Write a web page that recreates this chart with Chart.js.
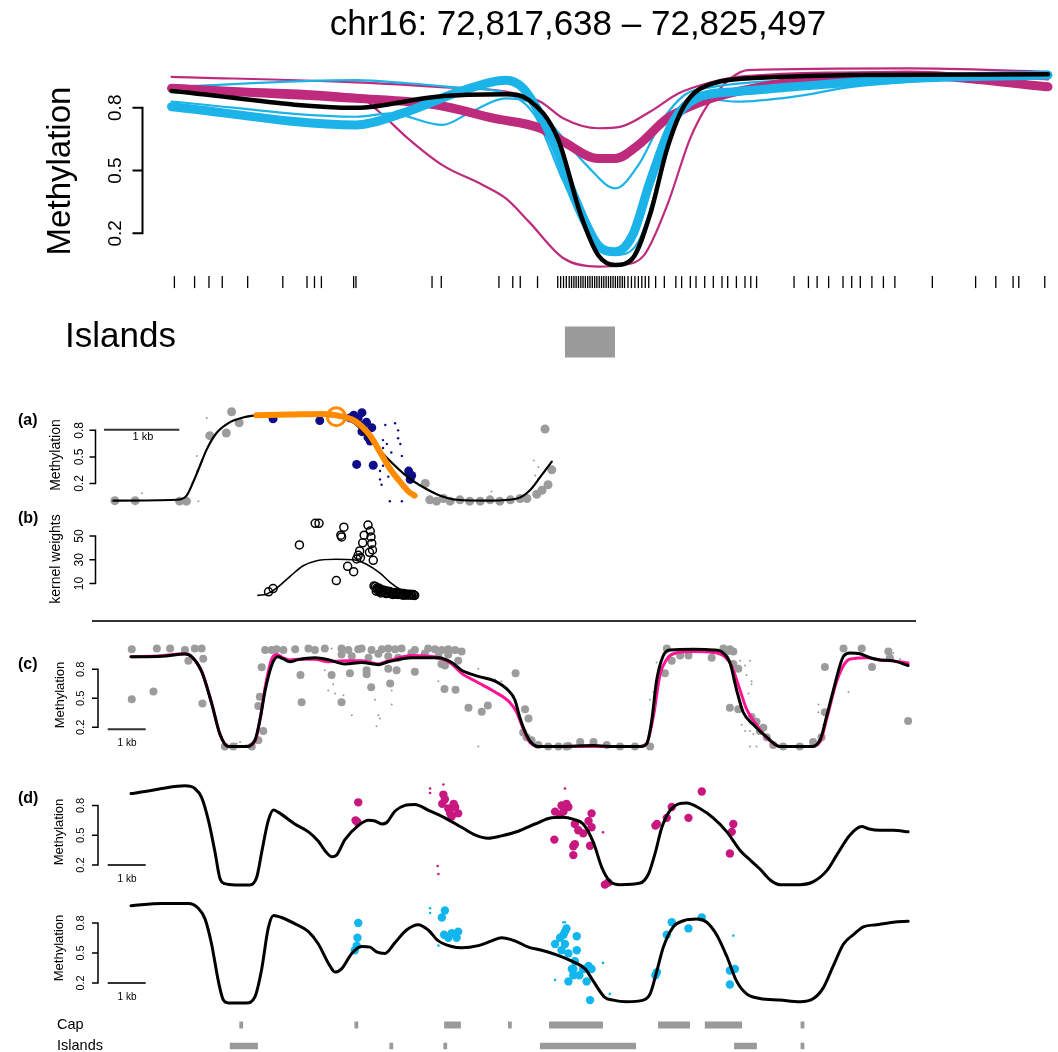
<!DOCTYPE html>
<html>
<head>
<meta charset="utf-8">
<script src="https://cdn.jsdelivr.net/npm/chart.js@4.4.0/dist/chart.umd.min.js"></script>
<style>
  body { margin: 0; background: #fff; }
  #page { position: relative; width: 1058px; height: 1052px; overflow: hidden; background: #fff; }
  #page canvas { position: absolute; left: 0; display: block; }
  #rule { position: absolute; left: 92px; top: 620px; width: 824px; height: 2px; background: #333; }
</style>
</head>
<body>
<div id="page">
  <canvas id="top" width="1058" height="380"></canvas>
  <canvas id="panelA" width="600" height="130"></canvas>
  <canvas id="panelB" width="600" height="100"></canvas>
  <div id="rule"></div>
  <canvas id="panelC" width="1058" height="122"></canvas>
  <canvas id="panelD" width="1058" height="124"></canvas>
  <canvas id="panelE" width="1058" height="128"></canvas>
  <canvas id="tracks" width="1058" height="40"></canvas>
</div>
<script>
const FONT = "'Liberation Sans', Arial, sans-serif";

// ---- region plot: smoothed methylation, bp from region start ----
const topBlackPos = [0, 1654, 2378, 2998, 3204, 3463, 3670, 3825, 3980, 4135, 4290, 4445, 4600, 4858, 5323, 6099, 7859];
const topBlack = [0.88, 0.80, 0.853, 0.864, 0.837, 0.654, 0.288, 0.097, 0.049, 0.081, 0.288, 0.606, 0.813, 0.917, 0.944, 0.956, 0.96];
const topBluePos = [0, 1654, 2068, 2584, 2998, 3153, 3411, 3618, 3825, 3980, 4135, 4290, 4497, 4703, 5065, 5582, 6615, 7859];
const topBlue = [0.805, 0.718, 0.773, 0.877, 0.932, 0.893, 0.654, 0.367, 0.144, 0.112, 0.192, 0.447, 0.733, 0.845, 0.877, 0.9, 0.94, 0.956];
const topMagentaPos = [0, 1654, 2378, 2894, 3308, 3515, 3825, 3980, 4186, 4445, 4755, 5065, 5582, 6615, 7859];
const topMagenta = [0.893, 0.845, 0.813, 0.749, 0.702, 0.638, 0.558, 0.558, 0.622, 0.749, 0.829, 0.877, 0.925, 0.956, 0.9];
const thinMagentaAPos = [0, 1654, 2378, 2998, 3308, 3515, 3825, 4031, 4290, 4548, 4806, 5117, 6615, 7859];
const thinMagentaA = [0.948, 0.921, 0.9, 0.877, 0.829, 0.749, 0.702, 0.71, 0.781, 0.869, 0.917, 0.95, 0.97, 0.935];
const thinMagentaBPos = [0, 1654, 1861, 2119, 2429, 2791, 2998, 3204, 3515, 3825, 4031, 4238, 4445, 4651, 4806, 5013, 5168, 6615, 7859];
const thinMagentaB = [0.893, 0.861, 0.781, 0.654, 0.526, 0.431, 0.367, 0.256, 0.081, 0.041, 0.049, 0.096, 0.335, 0.654, 0.813, 0.94, 0.98, 0.988, 0.972];
const thinBlueAPos = [0, 1654, 1964, 2429, 2687, 2998, 3204, 3463, 3721, 3980, 4186, 4393, 4600, 4858, 5582, 7859];
const thinBlueA = [0.83, 0.757, 0.773, 0.718, 0.781, 0.845, 0.829, 0.686, 0.526, 0.415, 0.526, 0.733, 0.861, 0.9, 0.932, 0.956];
const thinBlueBPos = [0, 1654, 2119, 2636, 2998, 3256, 3515, 3773, 3980, 4186, 4393, 4548, 4755, 5065, 5582, 6099, 7132, 7859];
const thinBlueB = [0.9, 0.932, 0.917, 0.893, 0.869, 0.765, 0.447, 0.16, 0.097, 0.16, 0.495, 0.765, 0.845, 0.829, 0.853, 0.9, 0.94, 0.956];
// CpG positions (rug) and the CpG island
const cpgPos = [26, 207, 336, 455, 683, 998, 1215, 1282, 1344, 1633, 1654, 2336, 2419, 2936, 3060, 3127, 3282,
  3463, 3489, 3515, 3540, 3566, 3587, 3608, 3628, 3649, 3670, 3690, 3711, 3732, 3752, 3773, 3794, 3814, 3835,
  3856, 3876, 3897, 3918, 3938, 3959, 3980, 4000, 4021, 4042, 4062, 4093, 4124, 4155, 4186, 4217, 4248, 4279,
  4341, 4419, 4522, 4574, 4652, 4703, 4781, 4858, 4936, 4987, 5065, 5142, 5194, 5246, 5582, 5711, 5789, 5892,
  6021, 6099, 6176, 6280, 6383, 6486, 6822, 7210, 7391, 7546, 7597, 7830];
const islandStartBp = 3528, islandEndBp = 3976;

// ---- (a) local fit, kb ----
const aBlackPos = [0, 0.84, 0.97, 1.06, 1.15, 1.24, 1.37, 1.55, 1.77, 1.90, 2.3, 2.9, 3.2, 3.4, 3.63, 3.9, 4.12, 4.34, 4.56, 5.0, 5.36, 5.53, 5.67, 5.82];
const aBlack = [0.006, 0.016, 0.06, 0.216, 0.4, 0.585, 0.77, 0.893, 0.955, 0.97, 0.975, 0.96, 0.88, 0.7, 0.49, 0.277, 0.154, 0.062, 0.016, 0.006, 0.03, 0.124, 0.277, 0.447];
const aOrangePos = [1.90, 2.35, 2.79, 3.05, 3.23, 3.41, 3.54, 3.67, 3.81, 3.92, 4.0];
const aOrange = [0.969, 0.978, 0.985, 0.954, 0.892, 0.738, 0.554, 0.369, 0.215, 0.108, 0.062];
const aFocusPos = [2.96], aFocus = [0.954];
const aGreyPos = [1.57, 1.67, 1.50, 1.28, 0.02, 0.29, 0.88, 0.97, 4.14, 4.2, 4.29, 4.38, 4.47, 4.6, 4.73, 4.87, 5.0, 5.13, 5.27, 5.4, 5.49, 5.62, 5.69, 5.77, 5.82, 5.73];
const aGrey = [1.01, 0.886, 0.77, 0.74, 0.006, 0.006, 0, 0, 0.2, 0.015, 0, 0.03, 0, 0.015, 0, 0, 0.015, 0, 0.015, 0.03, 0.03, 0.077, 0.123, 0.185, 0.354, 0.815];
const aGreySmallPos = [1.24, 1.11, 1.11, 0.38, 1.13, 5.58, 5.64, 5.6, 5.02];
const aGreySmall = [0.94, 0.51, 0.34, 0.09, 0, 0.46, 0.385, 0.29, 0.11];
const aNavyPos = [2.12, 2.74, 3.19, 3.3, 3.25, 3.36, 3.43, 3.3, 3.38, 3.41, 3.23, 3.45, 3.92, 3.96, 3.94, 3.14, 3.32];
const aNavy = [0.93, 0.91, 0.97, 1.0, 0.94, 0.89, 0.83, 0.785, 0.72, 0.68, 0.415, 0.406, 0.34, 0.29, 0.246, 0.94, 0.86];
const aNavySmallPos = [3.61, 3.74, 3.78, 3.58, 3.63, 3.58, 3.83, 3.58, 3.54, 3.65, 3.54, 3.56, 3.67, 3.83, 3.69, 3.78, 3.81];
const aNavySmall = [0.86, 0.88, 0.71, 0.69, 0.646, 0.6, 0.51, 0.4, 0.34, 0.277, 0.246, 0.185, 0, 0, 0.55, 0.8, 0.646];

// ---- (b) kernel weights ----
const bKernelPos = [1.92, 2.04, 2.17, 2.35, 2.52, 2.7, 2.96, 3.19, 3.36, 3.54, 3.67, 3.81, 3.94, 4.0];
const bKernel = [0, 1.25, 6.25, 16.25, 25, 29.25, 30.5, 30, 26.25, 18.75, 11.25, 5, 1.25, 0];
const bWeightPos = [2.68, 2.73, 3.06, 3.02, 3.03, 2.47, 3.38, 3.41, 3.33, 3.42, 3.31, 3.43, 3.44, 3.4, 3.27, 3.25, 3.23, 3.28, 3.45, 3.11, 3.19, 2.96, 2.12, 2.06,
  3.5, 3.54, 3.58, 3.63, 3.67, 3.72, 3.76, 3.81, 3.85, 3.89, 3.94, 3.98, 3.52, 3.56, 3.61, 3.65, 3.69, 3.74, 3.78, 3.83, 3.87, 3.92, 3.96, 4.0,
  3.46, 3.48, 3.5, 3.53, 3.55, 3.6, 3.62, 3.7, 3.71, 3.75, 3.8, 3.85, 3.9, 3.95, 3.99, 3.49];
const bWeight = [60.75, 60.75, 57.5, 50.75, 49.25, 42.5, 59.25, 54.25, 50.75, 49.25, 44.25, 43.75, 38.25, 36.25, 37.5, 33.75, 30.75, 31.75, 29.5, 24.5, 20, 12.5, 5.75, 3,
  6.25, 5, 4.5, 3.75, 3.25, 2.5, 2.25, 1.75, 1.5, 1.25, 1.0, 0.75, 3.75, 3, 2.25, 1.75, 1.25, 1.0, 0.75, 0.5, 0.25, 0.25, 0.25, 0,
  8, 7.5, 5, 6, 2, 4, 1.5, 2, 0.75, 1.5, 1.0, 0.25, 0.5, 0.5, 0.25, 3.5];

// ---- (c) two smoothers over the same CpGs, kb ----
const cBlackPos = [0, 0.81, 1.42, 1.6, 1.86, 2.12, 2.34, 2.56, 3.0, 3.26, 3.4, 3.53, 3.7, 3.86, 4.0, 4.18, 4.4, 4.84, 5.19, 5.63,
  6.07, 6.51, 6.77, 7.39, 8.09, 8.44, 8.7, 9.14, 9.58, 9.93, 10.1, 10.24, 10.46, 10.72, 11.3, 12.17, 12.6, 13.4, 13.57, 13.7,
  13.83, 14.0, 14.18, 14.8, 15.32, 15.59, 15.76, 15.94, 16.11, 16.38, 16.73, 17.08, 17.43, 17.87, 18.13, 18.31, 18.48, 18.75, 18.92, 19.18,
  19.45, 19.71, 20.06, 20.45];
const cBlack = [0.929, 0.935, 0.958, 0.929, 0.774, 0.45, 0.129, 0, 0, 0.065, 0.29, 0.58, 0.84, 0.929, 0.91, 0.877, 0.9, 0.919, 0.9, 0.855,
  0.87, 0.848, 0.877, 0.919, 0.919, 0.87, 0.79, 0.726, 0.677, 0.58, 0.484, 0.29, 0.08, 0, 0, 0.01, 0, 0, 0.03, 0.26,
  0.68, 0.935, 1.0, 1.006, 1.0, 0.968, 0.87, 0.58, 0.355, 0.226, 0.097, 0, 0, 0, 0.065, 0.32, 0.58, 0.935, 0.968, 0.96,
  0.919, 0.897, 0.887, 0.839];
const cPinkPos = [0, 0.81, 1.42, 1.6, 1.86, 2.12, 2.34, 2.56, 3.0, 3.26, 3.4, 3.53, 3.7, 3.83, 4.0, 4.18, 4.4, 4.84, 5.19, 5.63,
  6.07, 6.51, 6.77, 7.39, 8.09, 8.44, 8.7, 9.14, 9.58, 9.98, 10.15, 10.28, 10.46, 10.72, 11.3, 13.4, 13.57, 13.75, 13.92, 14.1,
  14.27, 14.8, 15.32, 15.63, 15.8, 16.03, 16.2, 16.46, 16.75, 17.08, 17.87, 18.13, 18.31, 18.57, 18.84, 19.01, 19.36, 19.71, 20.06, 20.45];
const cPink = [0.929, 0.94, 0.96, 0.929, 0.78, 0.455, 0.13, 0, 0, 0.05, 0.29, 0.613, 0.903, 0.952, 0.919, 0.897, 0.903, 0.903, 0.877, 0.887,
  0.887, 0.855, 0.887, 0.942, 0.919, 0.855, 0.758, 0.661, 0.565, 0.452, 0.355, 0.226, 0.065, 0, 0, 0, 0.03, 0.32, 0.742, 0.903,
  0.961, 0.984, 0.974, 0.929, 0.839, 0.58, 0.387, 0.226, 0.081, 0, 0, 0.048, 0.29, 0.677, 0.887, 0.91, 0.919, 0.897, 0.887, 0.865];
const cGreyPos = [0.02, 0.68, 1.03, 1.42, 1.68, 1.86, 1.51, 1.9, 0.59, 0.02, 1.88, 2.47, 2.69, 3.18, 3.35, 3.48, 3.35, 3.39, 3.44,
  3.53, 3.7, 3.83, 4.01, 4.32, 4.67, 4.84, 5.1, 5.54, 5.72, 5.98, 6.07, 6.33, 6.6, 6.77, 6.95, 7.12, 7.47, 7.82, 8.0, 8.18, 8.35, 8.53, 8.7,
  5.54, 5.81, 6.25, 6.51, 6.77, 7.03, 7.38, 7.73, 8.09, 8.35, 8.61, 8.26, 8.17,
  4.46, 5.28, 5.76, 6.2, 6.2, 6.77, 6.82, 6.99, 7.47, 6.32, 4.49, 5.54, 8.25, 8.54, 8.88, 9.23, 9.39, 10.12, 10.37, 10.46, 10.32, 10.41, 10.54, 10.72, 10.98, 11.25, 11.51,
  11.46, 11.82, 12.17, 12.52, 12.87, 13.26, 13.66, 14.1, 14.23, 14.45, 14.67, 15.28, 14.05, 15.59, 15.76, 15.85, 15.68, 15.85, 15.98, 15.76, 15.98,
  16.33, 16.46, 16.64, 16.55, 16.73, 16.9, 17.16, 17.6, 17.95, 18.17, 18.26, 18.26, 18.75, 19.23, 19.5, 19.93, 19.97, 20.45];
const cGrey = [1.006, 1.016, 1.016, 1.0, 1.016, 1.016, 0.887, 0.91, 0.571, 0.49, 0.445, 0, 0, 0, 0.065, 0.16, 0.42, 0.516, 0.82,
  1.0, 1.0, 1.006, 1.0, 1.006, 1.016, 1.0, 1.016, 1.016, 1.0, 1.006, 1.016, 1.0, 1.006, 1.016, 1.006, 1.016, 1.0, 1.016, 1.006, 1.0, 1.006, 1.0, 0.984,
  0.952, 0.935, 0.919, 0.96, 0.935, 0.919, 0.968, 0.961, 0.935, 0.952, 0.887, 0.839, 0.855,
  0.742, 0.742, 0.758, 0.79, 0.748, 0.806, 0.652, 0.79, 0.774, 0.613, 0.458, 0.458, 0.597, 0.587, 0.403, 0.361, 0.426, 0.758, 0.387, 0.29, 0.145, 0.097, 0.065, 0.016, 0, 0, 0.006,
  0, 0.048, 0.048, 0.016, 0, 0, 0, 1.016, 0.887, 0.942, 0.942, 0.919, 0.758, 1.016, 1.006, 0.984, 0.984, 0.855, 0.806, 0.403, 0.387,
  0.306, 0.258, 0.194, 0.161, 0.097, 0.016, 0, 0, 0.048, 0.097, 0.355, 0.823, 1.016, 1.016, 0.823, 0.984, 0.919, 0.265];
const cGreySmallPos = [5.1, 5.19, 5.32, 5.37, 5.59, 5.81, 5.72, 6.42, 6.51, 6.55, 6.46, 6.86, 6.86, 8.09, 9.14, 9.58, 9.75, 2.87, 3.04, 2.78, 5.1, 5.28, 9.14,
  13.66, 13.75, 13.83, 16.03, 16.16, 16.29, 16.33, 16.33, 16.2, 16.25, 16.07, 16.16, 16.38, 16.29, 18.09, 18.22, 18.09, 18.88, 16.29, 16.46, 20.06, 20.24];
const cGreySmall = [0.79, 0.58, 0.645, 0.548, 0.532, 0.323, 0.774, 0.484, 0.323, 0.29, 0.21, 0.58, 0.435, 0.677, 0.806, 0.694, 0.677, 0.048, 0.016, 0.032, 1.016, 1.016, 0,
  0.484, 0.565, 0.871, 0.887, 0.839, 0.887, 0.677, 0.645, 0.742, 0.548, 0.226, 0.161, 0.129, 0.161, 0.435, 0.226, 0.355, 0.565, 0, 0, 0.968, 0.903];

// ---- (d) and (e) fits with the CpGs of one sample ----
const dBlackPos = [0, 0.37, 0.81, 1.42, 1.68, 1.86, 2.04, 2.21, 2.34, 2.47, 2.74, 3.13, 3.31, 3.44, 3.61, 3.75, 3.88, 4.32, 4.67, 4.93,
  5.1, 5.28, 5.41, 5.63, 5.98, 6.25, 6.42, 6.6, 6.73, 6.95, 7.21, 7.47, 7.82, 8.26, 8.7, 9.05, 9.4, 9.75, 10.19, 10.63,
  11.07, 11.35, 11.65, 11.9, 12.17, 12.39, 12.61, 12.87, 13.4, 13.62, 13.8, 13.97, 14.19, 14.41, 14.62, 14.97, 15.32, 15.68, 16.03, 16.33,
  16.55, 16.82, 17.08, 17.61, 17.96, 18.31, 18.57, 18.92, 19.23, 19.4, 19.71, 20.06, 20.45];
const dBlack = [0.919, 0.94, 0.97, 0.997, 0.97, 0.878, 0.644, 0.331, 0.066, 0.0125, 0, 0, 0.08, 0.33, 0.644, 0.753, 0.73, 0.61, 0.534, 0.44,
  0.347, 0.284, 0.3, 0.456, 0.597, 0.65, 0.644, 0.613, 0.628, 0.744, 0.8, 0.81, 0.753, 0.675, 0.58, 0.503, 0.47, 0.494, 0.54, 0.613,
  0.675, 0.68, 0.66, 0.6125, 0.425, 0.175, 0.034, 0.003, 0.019, 0.1125, 0.33, 0.58, 0.753, 0.816, 0.825, 0.769, 0.675, 0.534, 0.347, 0.2375,
  0.16, 0.05, 0.003, 0.003, 0.034, 0.144, 0.3, 0.503, 0.5875, 0.566, 0.55, 0.55, 0.534];
const dDotPos = [5.98, 5.91, 5.96, 8.22, 8.26, 8.19, 8.35, 8.4, 8.49, 8.53, 8.61, 8.44, 11.16, 11.33, 11.46, 11.29, 11.14, 11.64, 11.64, 11.42,
  11.51, 11.38, 11.68, 11.77, 11.9, 12.04, 12.12, 12.12, 11.68, 12.08, 12.47, 12.56, 13.8, 13.84, 14.1, 14.23, 14.67, 15.02, 15.85, 15.81, 15.76];
const dDot = [0.831, 0.65, 0.63, 0.909, 0.8625, 0.816, 0.769, 0.72, 0.816, 0.784, 0.72, 0.69, 0.7375, 0.8, 0.816, 0.706, 0.456, 0.39, 0.3, 0.8,
  0.784, 0.7375, 0.6125, 0.55, 0.519, 0.644, 0.72, 0.58, 0.41, 0.394, 0.003, 0.025, 0.597, 0.6125, 0.675, 0.784, 0.675, 0.94, 0.6125, 0.534, 0.316];
const dSmallPos = [7.87, 7.87, 8.22, 8.07, 8.09, 11.42, 12.42];
const dSmall = [0.97, 0.925, 1.01, 0.19, 0.11, 0.97, 0.53];

const eBlackPos = [0, 0.81, 1.51, 1.77, 1.95, 2.12, 2.3, 2.43, 2.56, 3.04, 3.26, 3.44, 3.61, 3.75, 3.96, 4.32, 4.67, 4.93, 5.19, 5.37,
  5.54, 5.81, 6.07, 6.29, 6.46, 6.68, 6.95, 7.25, 7.56, 7.82, 8.09, 8.44, 8.7, 9.14, 9.49, 9.75, 10.1, 10.46, 10.81, 11.2,
  11.6, 11.95, 12.17, 12.46, 12.69, 13.04, 13.48, 13.66, 13.83, 14.01, 14.27, 14.54, 14.89, 15.15, 15.41, 15.68, 15.94, 16.2, 16.55, 17.08,
  17.61, 17.96, 18.22, 18.48, 18.75, 19.01, 19.27, 19.62, 20.06, 20.45];
const eBlack = [0.972, 0.994, 0.994, 0.947, 0.838, 0.589, 0.215, 0.028, 0, 0, 0.06, 0.34, 0.745, 0.875, 0.854, 0.79, 0.713, 0.589, 0.4, 0.308,
  0.34, 0.495, 0.564, 0.558, 0.511, 0.495, 0.604, 0.729, 0.782, 0.729, 0.62, 0.564, 0.551, 0.573, 0.62, 0.651, 0.62, 0.558, 0.526, 0.48,
  0.417, 0.34, 0.215, 0.059, 0.028, 0.012, 0.028, 0.09, 0.308, 0.558, 0.76, 0.822, 0.838, 0.807, 0.682, 0.464, 0.215, 0.09, 0.044, 0.028,
  0.012, 0.044, 0.153, 0.37, 0.589, 0.682, 0.76, 0.782, 0.807, 0.816];
const eDotPos = [5.98, 5.96, 5.94, 5.89, 8.26, 8.18, 8.24, 8.44, 8.61, 8.57, 8.35, 11.16, 11.29, 11.42, 11.46, 11.33, 11.51, 11.51, 11.6, 11.64,
  11.38, 11.42, 11.73, 11.73, 11.68, 11.64, 11.9, 12.04, 12.12, 11.99, 11.8, 12.08, 14.1, 14.23, 14.67, 15.02, 13.8, 13.84, 15.76, 15.89, 15.76];
const eDot = [0.8, 0.651, 0.573, 0.526, 0.925, 0.854, 0.682, 0.698, 0.713, 0.651, 0.651, 0.589, 0.651, 0.713, 0.745, 0.526, 0.495, 0.215, 0.34, 0.277,
  0.682, 0.589, 0.667, 0.526, 0.417, 0.34, 0.34, 0.37, 0.34, 0.215, 0.277, 0.028, 0.682, 0.807, 0.745, 0.854, 0.277, 0.308, 0.324, 0.34, 0.184];
const eSmallPos = [7.87, 7.87, 8.09, 11.16, 11.42, 15.85, 12.42, 12.6, 11.38];
const eSmall = [0.947, 0.9, 0.573, 0.23, 0.807, 0.673, 0.4, 0.09, 0.807];

// annotation tracks, kb
const capStart = [2.85, 5.88, 8.24, 9.92, 11.0, 13.87, 15.1, 17.62];
const capEnd = [2.95, 5.98, 8.68, 10.02, 12.42, 14.71, 16.08, 17.72];
const islandStart = [2.6, 6.8, 8.22, 10.76, 15.87, 17.62];
const islandEnd = [3.34, 6.9, 8.32, 13.29, 16.47, 17.72];

const methTicks = [0.2, 0.5, 0.8];
const methLabels = ['0.2', '0.5', '0.8'];
const weightTicks = [10, 30, 50];
const weightLabels = ['10', '30', '50'];

const BLUE = '#1cb3e8', MAGENTA = '#be2a7c', GREY = '#9c9c9c', NAVY = '#0d0d8a', ORANGE = '#ff8c00';

const pts = (xs, ys) => xs.map((x, i) => ({ x: x, y: ys[i] }));

function curve(xs, ys, color, width) {
  return { data: pts(xs, ys), borderColor: color, borderWidth: width, pointRadius: 0,
    cubicInterpolationMode: 'monotone', borderCapStyle: 'round', borderJoinStyle: 'round', clip: false };
}
function dots(xs, ys, color, r) {
  return { data: pts(xs, ys), showLine: false, pointRadius: r, pointBackgroundColor: color,
    pointBorderWidth: 0, borderColor: color, clip: false };
}
function rings(xs, ys, color, r, w) {
  return { data: pts(xs, ys), showLine: false, pointRadius: r, pointBackgroundColor: 'rgba(0,0,0,0)',
    pointBorderColor: color, pointBorderWidth: w, borderColor: color, clip: false };
}
function segment(x0, x1, y, color, width) {
  return { data: [{ x: x0, y: y }, { x: x1, y: y }], borderColor: color, borderWidth: width,
    pointRadius: 0, borderCapStyle: 'butt', clip: false };
}
function rug(xs, y, len) {
  return { data: xs.map(x => ({ x: x, y: y })), showLine: false, pointStyle: 'line', rotation: 90,
    pointRadius: len / 2, pointBorderColor: '#000', pointBorderWidth: 1.3, borderColor: '#000', clip: false };
}

function txt(ctx, s, x, y, size, opts) {
  opts = opts || {};
  ctx.save();
  ctx.translate(x, y);
  if (opts.rot) ctx.rotate(-Math.PI / 2);
  ctx.font = (opts.bold ? 'bold ' : '') + size + 'px ' + FONT;
  ctx.fillStyle = '#000';
  ctx.textAlign = opts.align || 'center';
  ctx.textBaseline = 'middle';
  ctx.fillText(s, 0, 0);
  ctx.restore();
}

// R-style left axis: spine between first and last tick, rotated labels
function rAxis(ctx, scale, ticks, labels, x, len, lw, labelX, size) {
  ctx.save();
  ctx.strokeStyle = '#000';
  ctx.lineWidth = lw;
  ctx.beginPath();
  ctx.moveTo(x, scale.getPixelForValue(ticks[0]));
  ctx.lineTo(x, scale.getPixelForValue(ticks[ticks.length - 1]));
  ticks.forEach(t => {
    const p = scale.getPixelForValue(t);
    ctx.moveTo(x + lw / 2, p);
    ctx.lineTo(x - len, p);
  });
  ctx.stroke();
  ctx.restore();
  ticks.forEach((t, i) => txt(ctx, labels[i], labelX, scale.getPixelForValue(t), size, { rot: true }));
}

function panel(id, top, xRange, yRange, pad, datasets, deco) {
  const canvas = document.getElementById(id);
  canvas.style.top = top + 'px';
  datasets.forEach((d, i) => { d.order = datasets.length - i; });
  return new Chart(canvas, {
    type: 'line',
    data: { datasets: datasets },
    options: {
      responsive: false,
      animation: false,
      devicePixelRatio: 1,
      events: [],
      layout: { padding: pad },
      scales: {
        x: { type: 'linear', display: false, min: xRange[0], max: xRange[1] },
        y: { type: 'linear', display: false, min: yRange[0], max: yRange[1] }
      },
      plugins: { legend: { display: false }, tooltip: { enabled: false } }
    },
    plugins: [{ id: 'deco', afterDatasetsDraw(chart) { deco(chart.ctx, chart.scales.y, top); } }]
  });
}

// region overview
panel('top', 0, [0, 7859], [-0.45, 1.0], { left: 171.5, right: 10, top: 65.9, bottom: 10.6 }, [
  curve(thinMagentaAPos, thinMagentaA, MAGENTA, 2.2),
  curve(thinMagentaBPos, thinMagentaB, MAGENTA, 2.2),
  curve(thinBlueAPos, thinBlueA, BLUE, 2.2),
  curve(thinBlueBPos, thinBlueB, BLUE, 2.2),
  curve(topMagentaPos, topMagenta, MAGENTA, 9),
  curve(topBluePos, topBlue, BLUE, 9),
  curve(topBlackPos, topBlack, '#000', 4.5),
  rug(cpgPos, -0.033, 12),
  segment(islandStartBp, islandEndBp, -0.319, '#9a9a9a', 31)
], (ctx, y) => {
  txt(ctx, 'chr16: 72,817,638 \u2013 72,825,497', 578, 25, 35);
  rAxis(ctx, y, methTicks, methLabels, 142.5, 10, 2, 116, 19);
  txt(ctx, 'Methylation', 61, 171, 33, { rot: true });
  txt(ctx, 'Islands', 65, 337, 35, { align: 'left' });
});

// (a)
panel('panelA', 390, [0, 5.82], [-0.077, 1.12], { left: 113.33, right: 48.2, top: 0.34, bottom: 5.1 }, [
  dots(aGreySmallPos, aGreySmall, GREY, 1),
  dots(aGreyPos, aGrey, GREY, 4.5),
  dots(aNavySmallPos, aNavySmall, NAVY, 1.2),
  dots(aNavyPos, aNavy, NAVY, 4.5),
  curve(aBlackPos, aBlack, '#000', 2.2),
  curve(aOrangePos, aOrange, ORANGE, 6),
  rings(aFocusPos, aFocus, ORANGE, 9, 3),
  segment(-0.124, 0.876, 0.806, '#333', 2)
], (ctx, y, top) => {
  txt(ctx, '(a)', 18, 421 - top, 16, { align: 'left', bold: true });
  rAxis(ctx, y, methTicks, methLabels, 95.5, 6, 1.5, 80, 12);
  txt(ctx, 'Methylation', 56, 455 - top, 14, { rot: true });
  txt(ctx, '1 kb', 143, 437 - top, 11);
});

// (b)
panel('panelB', 508, [0, 5.82], [-6, 69], { left: 113.33, right: 48.2, top: 0, bottom: 0 }, [
  rings(bWeightPos, bWeight, '#000', 4, 1.5),
  curve(bKernelPos, bKernel, '#000', 1.6)
], (ctx, y, top) => {
  txt(ctx, '(b)', 18, 519 - top, 16, { align: 'left', bold: true });
  rAxis(ctx, y, weightTicks, weightLabels, 95.5, 6, 1.5, 80, 12);
  txt(ctx, 'kernel weights', 56, 559 - top, 14, { rot: true });
});

// (c)
panel('panelC', 636, [0, 20.46], [-0.077, 1.103], { left: 131, right: 149.5, top: 0, bottom: 0 }, [
  dots(cGreySmallPos, cGreySmall, GREY, 1),
  dots(cGreyPos, cGrey, GREY, 4),
  curve(cPinkPos, cPink, '#ff1493', 3),
  curve(cBlackPos, cBlack, '#000', 3),
  segment(-0.613, 0.387, 0.18, '#333', 2)
], (ctx, y, top) => {
  txt(ctx, '(c)', 18, 665 - top, 16, { align: 'left', bold: true });
  rAxis(ctx, y, methTicks, methLabels, 98, 6, 1.5, 81, 11);
  txt(ctx, 'Methylation', 60, 695 - top, 13, { rot: true });
  txt(ctx, '1 kb', 127, 743 - top, 10);
});

// (d)
panel('panelD', 772, [0, 20.46], [-0.069, 1.094], { left: 131, right: 149.5, top: 0, bottom: 0 }, [
  dots(dSmallPos, dSmall, '#c8177e', 1.3),
  dots(dDotPos, dDot, '#c8177e', 4.2),
  curve(dBlackPos, dBlack, '#000', 3),
  segment(-0.613, 0.387, 0.2, '#333', 2)
], (ctx, y, top) => {
  txt(ctx, '(d)', 18, 799 - top, 16, { align: 'left', bold: true });
  rAxis(ctx, y, methTicks, methLabels, 98, 6, 1.5, 81, 11);
  txt(ctx, 'Methylation', 59, 832 - top, 13, { rot: true });
  txt(ctx, '1 kb', 127, 879 - top, 10);
});

// (e)
panel('panelE', 890, [0, 20.46], [-0.109, 1.0873], { left: 131, right: 149.5, top: 0, bottom: 0 }, [
  dots(eSmallPos, eSmall, '#12b6ee', 1.3),
  dots(eDotPos, eDot, '#12b6ee', 4.2),
  curve(eBlackPos, eBlack, '#000', 3),
  segment(-0.613, 0.387, 0.2, '#333', 2)
], (ctx, y, top) => {
  rAxis(ctx, y, methTicks, methLabels, 98, 6, 1.5, 81, 11);
  txt(ctx, 'Methylation', 59, 948 - top, 13, { rot: true });
  txt(ctx, '1 kb', 127, 997 - top, 10);
});

// Cap and island tracks
const trackSets = [];
capStart.forEach((s, i) => trackSets.push(segment(s, capEnd[i], 1, '#9a9a9a', 7)));
islandStart.forEach((s, i) => trackSets.push(segment(s, islandEnd[i], 0, '#9a9a9a', 6.5)));
panel('tracks', 1012, [0, 20.46], [-0.286, 1.619], { left: 131, right: 149.5, top: 0, bottom: 0 }, trackSets,
  (ctx, y, top) => {
    txt(ctx, 'Cap', 57, 1025 - top, 14.5, { align: 'left' });
    txt(ctx, 'Islands', 57, 1046 - top, 14.5, { align: 'left' });
  });
</script>
</body>
</html>
